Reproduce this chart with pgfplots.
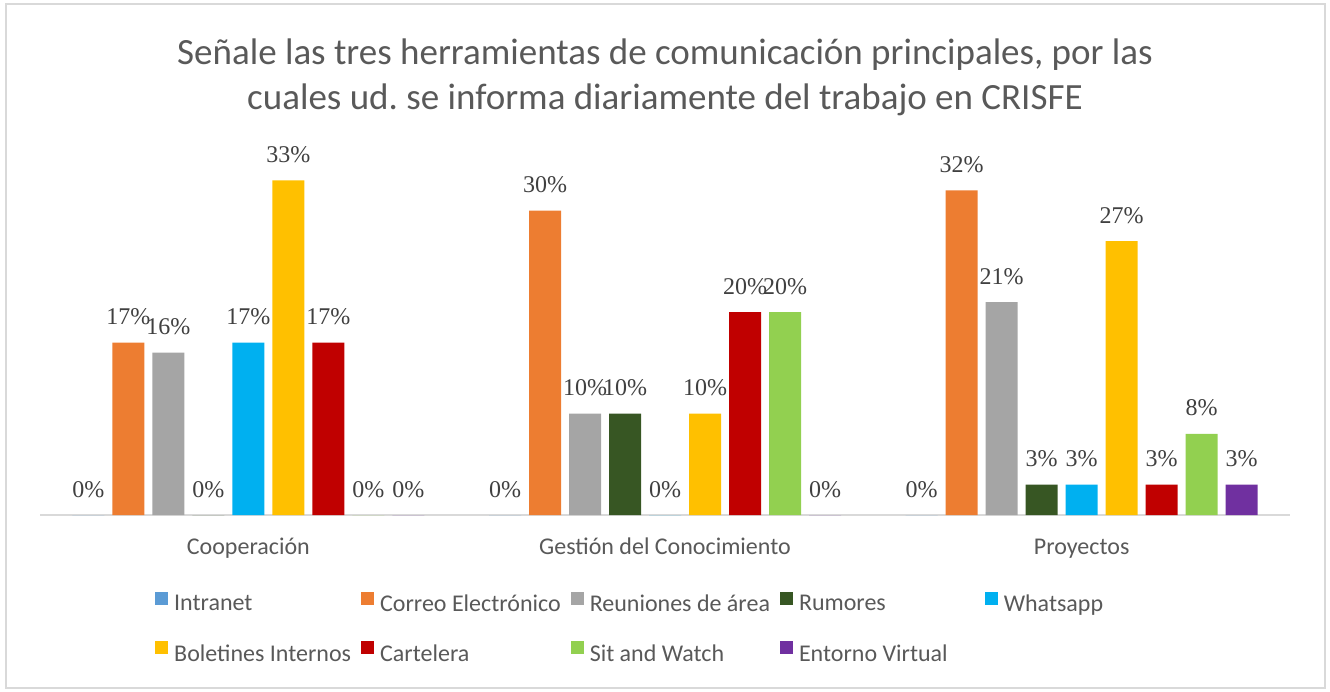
\documentclass[border=0pt]{standalone}
\usepackage{fontspec}
\setmainfont{Carlito}
\newfontfamily\labelfont{Liberation Serif}
\usepackage{pgfplots}
\pgfplotsset{compat=1.18}

\definecolor{cIntranet}{HTML}{5B9BD5}
\definecolor{cCorreo}{HTML}{ED7D31}
\definecolor{cReuniones}{HTML}{A5A5A5}
\definecolor{cRumores}{HTML}{375623}
\definecolor{cWhatsapp}{HTML}{00B0F0}
\definecolor{cBoletines}{HTML}{FFC000}
\definecolor{cCartelera}{HTML}{C00000}
\definecolor{cSit}{HTML}{92D050}
\definecolor{cEntorno}{HTML}{7030A0}
\definecolor{txtgray}{HTML}{595959}
\definecolor{lblgray}{HTML}{404040}
\definecolor{linegray}{HTML}{D9D9D9}

\begin{document}
\begin{tikzpicture}[x=1bp,y=1bp]
\useasboundingbox (0,0) rectangle (1330,-691);
\draw[linegray, line width=2bp] (6,-4) rectangle (1325,-688);
\node[font=\fontsize{37bp}{45bp}\selectfont, text=txtgray, anchor=base] at (665,-65)
  {Señale las tres herramientas de comunicación principales, por las};
\node[font=\fontsize{37bp}{45bp}\selectfont, text=txtgray, anchor=base] at (665,-110)
  {cuales ud.\ se informa diariamente del trabajo en CRISFE};
\begin{axis}[
  at={(40bp,-515bp)}, anchor=south west,
  width=1250bp, height=355bp, scale only axis,
  ybar=8bp, bar width=32bp,
  xmin=-0.5, xmax=2.5, ymin=0, ymax=35,
  xtick={0,1,2},
  xticklabels={Cooperación,Gestión del Conocimiento,Proyectos},
  xticklabel style={font=\fontsize{24bp}{29bp}\selectfont, text=txtgray, anchor=base, yshift=-39bp},
  major tick length=0pt,
  axis y line=none, axis x line*=bottom,
  x axis line style={-, draw=linegray, line width=1.5bp},
  ytick=\empty,
  clip=false,
  /pgf/number format/assume math mode=true,
  nodes near coords={\pgfmathprintnumber{\pgfplotspointmeta}\%},
  every node near coord/.append style={font=\labelfont\fontsize{24bp}{24bp}\selectfont, text=lblgray, anchor=base, inner sep=0pt, yshift=18bp},
  legend columns=5,
  legend image code/.code={\fill[#1] (0bp,-0.5bp) rectangle (13bp,12.5bp);},
  legend style={draw=none, fill=none, at={(0.092,-0.215)}, anchor=north west,
    font=\fontsize{24bp}{29bp}\selectfont, text=txtgray,
    inner sep=0pt, row sep=28bp, column sep=0bp,
    nodes={inner sep=0pt},
    /tikz/every odd column/.append style={column sep=6bp},
    /tikz/every even column/.append style={column sep=10bp}},
  legend cell align=left,
]
\addplot[fill=cIntranet, draw=none] coordinates {(0,0) (1,0) (2,0)};
\addlegendentry{Intranet}
\addplot[fill=cCorreo, draw=none] coordinates {(0,17) (1,30) (2,32)};
\addlegendentry{Correo Electrónico}
\addplot[fill=cReuniones, draw=none] coordinates {(0,16) (1,10) (2,21)};
\addlegendentry{Reuniones de área}
\addplot[fill=cRumores, draw=none] coordinates {(0,0) (1,10) (2,3)};
\addlegendentry{Rumores}
\addplot[fill=cWhatsapp, draw=none] coordinates {(0,17) (1,0) (2,3)};
\addlegendentry{Whatsapp}
\addplot[fill=cBoletines, draw=none] coordinates {(0,33) (1,10) (2,27)};
\addlegendentry{Boletines Internos}
\addplot[fill=cCartelera, draw=none] coordinates {(0,17) (1,20) (2,3)};
\addlegendentry{Cartelera}
\addplot[fill=cSit, draw=none] coordinates {(0,0) (1,20) (2,8)};
\addlegendentry{Sit and Watch}
\addplot[fill=cEntorno, draw=none] coordinates {(0,0) (1,0) (2,3)};
\addlegendentry{Entorno Virtual\hspace*{27bp}}
\end{axis}
\end{tikzpicture}
\end{document}
